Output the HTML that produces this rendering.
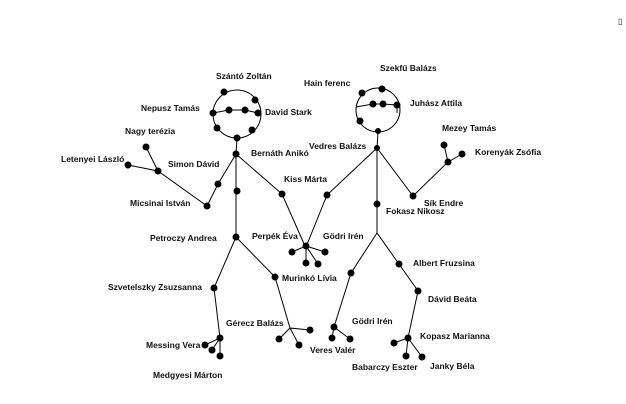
<!DOCTYPE html>
<html><head><style>
body{margin:0;background:#fff}
svg{display:block}
text{font-family:"Liberation Sans",sans-serif;font-weight:bold;font-size:8.5px;fill:#111}
line,path,circle.h{stroke:#000;stroke-width:1;fill:none}
</style></head><body>
<svg width="626" height="404" viewBox="0 0 626 404">
<g>
<circle class="h" cx="237" cy="114" r="24"/>
<path d="M213 113 L229 110 L245 110 L258 113"/>
<line x1="237" y1="138" x2="236" y2="154"/>
<line x1="236" y1="154" x2="236" y2="237"/>
<path d="M236 154 L218 184 L207 206 L158 171 L128 165 M158 171 L146 147"/>
<path d="M236 154 L282 194 L305 246"/>
<path d="M236 237 L214 288 L220 338 L205 345 M220 338 L212 350 M220 338 L220 356"/>
<path d="M236 237 L275 277 L290 328 L310 330 M290 328 L279 339 M290 328 L299 345"/>
<circle class="h" cx="378" cy="110" r="22"/>
<path d="M356 107 L373 104 L383 104 L397 105 L397 113"/>
<line x1="378" y1="132" x2="377" y2="148"/>
<line x1="377" y1="148" x2="377" y2="233"/>
<path d="M377 148 L327 195 L306 247"/>
<path d="M377 148 L413 196 L448 162 L444 145 M448 162 L462 154"/>
<path d="M306 246 L292 252 M306 246 L325 252 M306 246 L306 263 M306 246 L318 264"/>
<path d="M377 233 L351 273 L334 327 L332 338 M334 327 L350 339"/>
<path d="M377 233 L399 264 L418 291 L408 338 L394 343 M408 338 L406 356 M408 338 L422 357"/>
</g>
<g fill="#000">
<circle cx="224" cy="92" r="3.5"/><circle cx="255" cy="100" r="3.5"/><circle cx="213" cy="113" r="3.5"/><circle cx="229" cy="110" r="3.5"/><circle cx="245" cy="110" r="3.5"/><circle cx="258" cy="113" r="3.5"/><circle cx="217" cy="128" r="3.5"/><circle cx="252" cy="130" r="3.5"/><circle cx="237" cy="138" r="3.5"/>
<circle cx="236" cy="154" r="3.5"/><circle cx="237" cy="191" r="3.5"/><circle cx="236" cy="237" r="3.5"/>
<circle cx="218" cy="184" r="3.5"/><circle cx="207" cy="206" r="3.5"/><circle cx="158" cy="171" r="3.5"/><circle cx="128" cy="165" r="3.5"/><circle cx="146" cy="147" r="3.5"/>
<circle cx="282" cy="194" r="3.5"/>
<circle cx="214" cy="288" r="3.5"/><circle cx="220" cy="338" r="3.5"/><circle cx="205" cy="345" r="3.5"/><circle cx="212" cy="350" r="3.5"/><circle cx="220" cy="356" r="3.5"/>
<circle cx="275" cy="277" r="3.5"/><circle cx="310" cy="330" r="3.5"/><circle cx="279" cy="339" r="3.5"/><circle cx="299" cy="345" r="3.5"/>
<circle cx="362" cy="93" r="3.5"/><circle cx="382" cy="89" r="3.5"/><circle cx="373" cy="104" r="3.5"/><circle cx="383" cy="104" r="3.5"/><circle cx="397" cy="105" r="3.5"/><circle cx="360" cy="121" r="3.5"/><circle cx="378" cy="131" r="3"/>
<circle cx="377" cy="148" r="3"/><circle cx="377" cy="204" r="3.5"/><circle cx="327" cy="195" r="3.5"/>
<circle cx="413" cy="196" r="3.5"/><circle cx="448" cy="162" r="3.5"/><circle cx="444" cy="145" r="3.5"/><circle cx="462" cy="154" r="3.5"/>
<circle cx="306" cy="246" r="3.5"/><circle cx="292" cy="252" r="3.5"/><circle cx="325" cy="252" r="3.5"/><circle cx="306" cy="263" r="3.5"/><circle cx="318" cy="264" r="3.5"/>
<circle cx="351" cy="273" r="3.5"/><circle cx="334" cy="327" r="3.5"/><circle cx="332" cy="338" r="3.5"/><circle cx="350" cy="339" r="3.5"/>
<circle cx="399" cy="264" r="3.5"/><circle cx="418" cy="291" r="3.5"/><circle cx="408" cy="338" r="3.5"/><circle cx="394" cy="343" r="3.5"/><circle cx="406" cy="356" r="3.5"/><circle cx="422" cy="357" r="3.5"/>
</g>
<text x="216" y="79">Szántó Zoltán</text>
<text x="141" y="111">Nepusz Tamás</text>
<text x="265" y="115">David Stark</text>
<text x="125" y="134">Nagy terézia</text>
<text x="61" y="162">Letenyei László</text>
<text x="168" y="167">Simon Dávid</text>
<text x="251" y="156">Bernáth Anikó</text>
<text x="130" y="206">Micsinai István</text>
<text x="284" y="182">Kiss Márta</text>
<text x="304" y="86">Hain ferenc</text>
<text x="380" y="71">Szekfű Balázs</text>
<text x="410" y="106">Juhász Attila</text>
<text x="442" y="131">Mezey Tamás</text>
<text x="475" y="155">Korenyák Zsófia</text>
<text x="309" y="149">Vedres Balázs</text>
<text x="424" y="206">Sík Endre</text>
<text x="386" y="214">Fokasz Nikosz</text>
<text x="150" y="241">Petroczy Andrea</text>
<text x="252" y="239">Perpék Éva</text>
<text x="323" y="239">Gödri Irén</text>
<text x="413" y="266">Albert Fruzsina</text>
<text x="282" y="281">Murinkó Lívia</text>
<text x="108" y="290">Szvetelszky Zsuzsanna</text>
<text x="428" y="302">Dávid Beáta</text>
<text x="226" y="326">Gérecz Balázs</text>
<text x="352" y="324">Gödri Irén</text>
<text x="420" y="339">Kopasz Marianna</text>
<text x="146" y="348">Messing Vera</text>
<text x="310" y="353">Veres Valér</text>
<text x="352" y="370">Babarczy Eszter</text>
<text x="430" y="369">Janky Béla</text>
<text x="153" y="378">Medgyesi Márton</text>
<text x="618" y="24" style="font-weight:normal;font-size:8px">▯</text>
</svg>
</body></html>
